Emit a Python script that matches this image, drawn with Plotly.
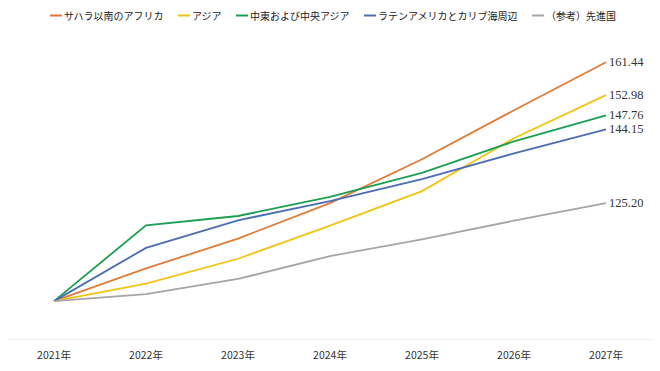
import plotly.graph_objects as go

years = ["2021年", "2022年", "2023年", "2024年", "2025年", "2026年", "2027年"]
series_names = ["サハラ以南のアフリカ", "アジア", "中東および中央アジア", "ラテンアメリカとカリブ海周辺", "（参考）先進国"]
ssa = [100, 108.4, 116.1, 125.2, 136.5, 149.1, 161.44]
asia = [100, 104.5, 110.9, 119.4, 128.3, 141.9, 152.98]
mec = [100, 119.5, 121.9, 126.8, 133.0, 141.1, 147.76]
lac = [100, 113.7, 120.8, 125.7, 131.4, 138.0, 144.15]
adv = [100, 101.8, 105.7, 111.6, 115.9, 120.7, 125.20]
end_labels = ["161.44", "152.98", "147.76", "144.15", "125.20"]

colors = ["#E07B39", "#F2C314", "#1A9E50", "#4A6DB5", "#A5A5A5"]
all_series = [ssa, asia, mec, lac, adv]

W, H = 652, 363
ML, MR, MT, MB = 0, 8, 21, 31
PW, PH = W - ML - MR, H - MT - MB

xs = list(range(len(years)))
fig = go.Figure()
for name, vals, c in zip(series_names, all_series, colors):
    fig.add_trace(go.Scatter(x=xs, y=vals, mode="lines", name=name,
                             line=dict(color=c, width=1.8), showlegend=False))

for vals, c, lab in zip(all_series, colors, end_labels):
    fig.add_annotation(x=xs[-1], y=vals[-1], text=lab, showarrow=False,
                       xanchor="left", yanchor="middle", xshift=1,
                       font=dict(family="Liberation Serif", size=12.5, color="#333333"))

# compact legend row built from shapes + text
LEG_FS = 10
leg_y = (H - MB - 7.5) / PH  # paper y of legend centre
cursor = 42.0
for name, c in zip(series_names, colors):
    fig.add_shape(type="line", xref="paper", yref="paper",
                  x0=cursor / PW, x1=(cursor + 12) / PW, y0=leg_y, y1=leg_y,
                  line=dict(color=c, width=2))
    tx = cursor + 13
    fig.add_annotation(xref="paper", yref="paper", x=tx / PW, y=leg_y,
                       xanchor="left", yanchor="middle", showarrow=False,
                       text=name, borderpad=0,
                       font=dict(family="Noto Sans CJK JP", size=LEG_FS, color="#222222"))
    cursor = tx + len(name) * LEG_FS + 15

fig.update_layout(
    width=W, height=H,
    margin=dict(l=ML, r=MR, t=MT, b=MB, autoexpand=False),
    plot_bgcolor="white", paper_bgcolor="white",
    showlegend=False,
    font=dict(family="Noto Sans CJK JP", size=10.5, color="#333333"),
)
fig.update_xaxes(range=[-0.5, 6.5], tickmode="array", tickvals=xs, ticktext=years,
                 showgrid=False, zeroline=False, showline=False, ticks="",
                 automargin=False, ticklabelstandoff=7,
                 tickfont=dict(family="Noto Sans CJK JP", size=10.5, color="#333333"))
fig.update_yaxes(range=[90, 170], showgrid=False, zeroline=False, showticklabels=False,
                 showline=False, automargin=False)
fig.add_shape(type="line", xref="paper", yref="y", x0=0, x1=1, y0=90, y1=90,
              line=dict(color="#E3E3E3", width=1))

fig.write_html("out.html")
